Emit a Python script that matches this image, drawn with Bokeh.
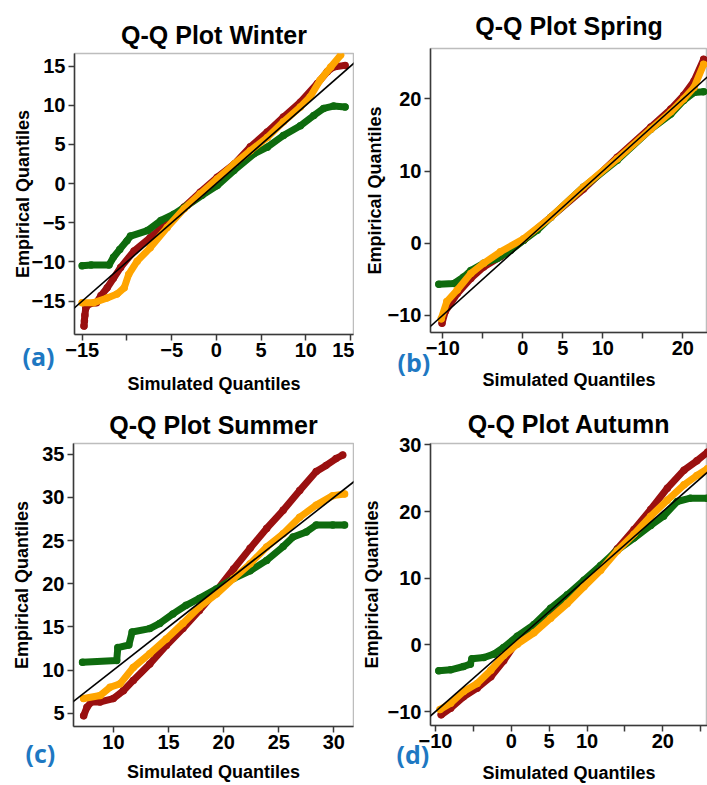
from bokeh.plotting import figure
from bokeh.models import Range1d, FixedTicker, Slope, Title
from bokeh.layouts import row, column
from bokeh.embed import file_html
from bokeh.resources import INLINE

# ---------------- data ----------------
# Winter
winter_red_x = [-14.8, -14.75, -14.7, -14.6, -14.3, -13.4, -12.9, -12.2, -11.5, -10.7, -9.2, -7.4, -5.5, -3.6, -1.8, 0.1, 2.0, 3.8, 5.7, 7.5, 9.4, 11.3, 12.4, 13.1, 14.4]
winter_red_y = [-18.2, -17.5, -16.8, -15.9, -15.4, -15.2, -14.3, -13.3, -12.1, -10.7, -8.6, -6.9, -5.0, -3.0, -1.1, 0.8, 2.5, 4.7, 6.6, 8.5, 10.4, 12.8, 14.3, 14.9, 15.1]
winter_orange_x = [-15.0, -13.7, -12.2, -11.1, -10.3, -9.8, -8.85, -7.4, -5.5, -3.6, -1.8, 0.1, 2.0, 3.8, 5.7, 7.5, 9.4, 10.5, 11.6, 12.8, 13.9]
winter_orange_y = [-15.2, -15.2, -14.6, -14.1, -13.3, -11.6, -9.9, -8.2, -5.6, -3.2, -1.3, 0.6, 2.5, 4.2, 5.9, 7.9, 9.8, 11.1, 13.2, 14.9, 16.4]
winter_green_x = [-15.0, -14.0, -12.0, -11.5, -10.8, -10.0, -9.6, -7.7, -6.2, -4.75, -3.26, -1.6, 0.1, 1.96, 4.2, 5.7, 7.5, 9.4, 10.9, 12.0, 13.1, 14.4]
winter_green_y = [-10.5, -10.4, -10.4, -9.4, -8.4, -7.3, -6.7, -6.0, -4.7, -3.9, -2.8, -1.5, -0.26, 1.67, 3.8, 4.66, 6.15, 7.4, 8.7, 9.6, 9.9, 9.8]

# Spring
spring_red_x = [-10.1, -9.7, -8.2, -6.5, -4.9, -2.8, 0.1, 3.5, 7.6, 11.8, 16.0, 18.5, 20.1, 21.4, 22.6]
spring_red_y = [-11.1, -9.5, -7.0, -4.9, -3.3, -1.9, 0.4, 3.6, 7.5, 11.9, 16.1, 18.6, 20.5, 22.5, 25.5]
spring_orange_x = [-10.2, -9.5, -8.2, -6.5, -4.9, -2.8, 0.1, 3.5, 7.6, 11.8, 16.0, 18.5, 20.1, 21.4, 22.6]
spring_orange_y = [-10.5, -8.1, -6.5, -4.2, -2.8, -1.2, 0.6, 3.6, 7.8, 11.7, 15.8, 18.2, 20.0, 21.6, 24.8]
spring_green_x = [-10.5, -8.6, -7.4, -6.5, -4.9, -3.2, -1.5, 0.1, 1.8, 3.5, 7.6, 11.8, 16.0, 18.5, 20.1, 21.4, 22.6]
spring_green_y = [-5.7, -5.6, -4.7, -3.8, -2.8, -2.15, -1.0, 0.4, 1.8, 3.6, 7.8, 11.5, 15.8, 17.9, 19.8, 20.9, 21.0]

# Summer
summer_red_x = [7.3, 7.6, 8.0, 8.8, 10.0, 10.9, 11.8, 13.3, 14.8, 16.3, 17.8, 19.35, 20.9, 22.4, 23.9, 25.4, 26.9, 28.4, 29.3, 30.2, 30.8]
summer_red_y = [4.7, 5.7, 6.3, 6.3, 6.7, 7.6, 8.8, 10.7, 12.85, 14.8, 16.9, 19.2, 21.7, 24.1, 26.4, 28.5, 30.8, 33.0, 33.7, 34.5, 34.9]
summer_orange_x = [7.3, 8.8, 9.7, 10.6, 11.8, 13.3, 14.8, 16.3, 17.8, 19.35, 20.9, 22.4, 23.9, 25.4, 26.9, 28.4, 29.9, 30.97]
summer_orange_y = [6.7, 7.05, 8.0, 8.4, 10.3, 11.9, 13.6, 15.4, 17.3, 18.8, 20.6, 22.3, 24.25, 25.8, 27.7, 29.1, 30.2, 30.4]
summer_green_x = [7.2, 10.3, 10.4, 11.4, 11.7, 13.3, 14.2, 15.4, 16.6, 17.8, 19.35, 20.9, 22.4, 23.9, 25.4, 26.3, 27.5, 28.4, 29.9, 30.97]
summer_green_y = [10.9, 11.1, 12.6, 12.9, 14.4, 14.8, 15.4, 16.5, 17.5, 18.3, 19.4, 20.6, 21.5, 22.7, 24.3, 25.4, 26.0, 26.8, 26.8, 26.8]

# Autumn
autumn_red_x = [-9.25, -8.0, -6.3, -4.5, -2.7, -1.0, 0.8, 3.0, 5.2, 7.4, 9.6, 11.8, 14.0, 16.2, 18.4, 20.6, 22.8, 24.5, 25.9]
autumn_red_y = [-10.5, -9.5, -7.8, -6.5, -4.8, -2.4, 0.6, 2.55, 5.0, 7.0, 9.2, 11.4, 14.4, 17.3, 20.3, 23.5, 26.2, 27.6, 28.9]
autumn_orange_x = [-9.4, -8.0, -6.3, -4.5, -2.7, -1.0, 0.8, 3.0, 5.2, 7.4, 9.6, 11.8, 14.0, 16.2, 18.4, 20.6, 22.8, 24.5, 25.9]
autumn_orange_y = [-9.7, -8.75, -7.0, -5.8, -3.8, -1.6, 0.1, 1.8, 4.0, 6.2, 8.7, 11.2, 14.1, 16.6, 19.3, 21.7, 24.0, 25.4, 26.4]
autumn_green_x = [-9.56, -8.0, -6.3, -5.4, -5.2, -3.6, -2.3, -1.0, 0.8, 3.0, 5.2, 7.4, 9.6, 11.8, 14.0, 16.2, 18.4, 20.1, 21.9, 23.65, 25.9]
autumn_green_y = [-3.9, -3.75, -3.25, -2.9, -2.1, -1.9, -1.4, -0.4, 1.3, 3.05, 5.5, 7.5, 9.7, 11.9, 14.2, 16.0, 17.9, 19.3, 21.5, 22.0, 22.0]

titles = ["Q-Q Plot Winter", "Q-Q Plot Spring", "Q-Q Plot Summer", "Q-Q Plot Autumn"]
tags = ["(a)", "(b)", "(c)", "(d)"]
x_label = "Simulated Quantiles"
y_label = "Empirical Quantiles"

winter_xticks = [-15, -10, -5, 0, 5, 10, 15]
winter_yticks = [-15, -10, -5, 0, 5, 10, 15]
spring_xticks = [-10, -5, 0, 5, 10, 15, 20]
spring_yticks = [-10, 0, 10, 20]
summer_xticks = [10, 15, 20, 25, 30]
summer_yticks = [5, 10, 15, 20, 25, 30, 35]
autumn_xticks = [-10, -5, 0, 5, 10, 15, 20, 25]
autumn_yticks = [-10, 0, 10, 20, 30]
# ticks whose labels R dropped
winter_blank = [-10]
spring_blank = [-5, 15]
summer_blank = []
autumn_blank = [-5, 15, 25]

RED = "#9A1010"
ORANGE = "#FFA500"
GREEN = "#0E6B0E"
TAG_BLUE = "#1E78C2"
FONT = "Liberation Sans"


def panel(title, tag, w, h, xr, yr, borders, xticks, yticks, blank, series,
          title_valign, title_standoff, title_offset, tag_offset, tag_standoff,
          ylab_standoff, xlab_standoff):
    p = figure(width=w, height=h, x_range=Range1d(*xr), y_range=Range1d(*yr),
               output_backend="svg", toolbar_location=None,
               min_border_left=borders[0], min_border_right=borders[1],
               min_border_top=borders[2], min_border_bottom=borders[3])
    if "frame_align" in p.properties():
        p.frame_align = False
    p.background_fill_color = "white"
    p.border_fill_color = "white"
    p.outline_line_color = "#BDBDBD"
    p.outline_line_width = 1.5
    p.grid.visible = False

    p.title.text = title
    p.title.align = "center"
    p.title.vertical_align = title_valign
    p.title.text_font = FONT
    p.title.text_font_size = "25px"
    p.title.text_font_style = "bold"
    p.title.text_color = "black"
    p.title.standoff = title_standoff
    p.title.offset = title_offset

    for ax in (p.xaxis[0], p.yaxis[0]):
        ax.axis_line_color = "#3A3A3A"
        ax.axis_line_width = 1.5
        ax.major_tick_line_color = "#3A3A3A"
        ax.major_tick_line_width = 1.5
        ax.major_tick_out = 6
        ax.major_tick_in = 0
        ax.minor_tick_line_color = None
        ax.major_label_text_font = FONT
        ax.major_label_text_font_size = "20px"
        ax.major_label_text_font_style = "bold"
        ax.major_label_text_color = "black"
        ax.axis_label_text_font = FONT
        ax.axis_label_text_font_size = "18px"
        ax.axis_label_text_font_style = "bold"
        ax.axis_label_text_color = "black"
    p.xaxis.ticker = FixedTicker(ticks=xticks)
    p.yaxis.ticker = FixedTicker(ticks=yticks)
    p.xaxis.major_label_overrides = {t: "" for t in blank}
    p.xaxis.major_label_standoff = 2
    p.yaxis.major_label_standoff = 3
    p.yaxis.major_label_orientation = "horizontal"
    p.xaxis.axis_label = x_label
    p.yaxis.axis_label = y_label
    p.xaxis.axis_label_standoff = xlab_standoff
    p.yaxis.axis_label_standoff = ylab_standoff

    for xs, ys, col in series:
        p.line(xs, ys, line_color=col, line_width=7, line_cap="round", line_join="round")
        p.scatter(xs, ys, marker="circle", size=6, fill_color="white", fill_alpha=0.0,
                  line_color=col, line_width=1.5)
    p.add_layout(Slope(gradient=1, y_intercept=0, line_color="black", line_width=1.6))

    # panel tag, stacked below the x axis and pulled up beside the tick labels
    tag_title = Title(text=tag, align="left", vertical_align="top",
                      offset=tag_offset, standoff=tag_standoff,
                      text_font="Open Sans", text_font_size="25px",
                      text_font_style="bold", text_color=TAG_BLUE)
    p.add_layout(tag_title, "below")
    return p


pa = panel(titles[0], tags[0], 354, 400, (-15.86, 15.34), (-19.27, 16.62), (74, 1, 53, 66),
           winter_xticks, winter_yticks, winter_blank,
           [(winter_red_x, winter_red_y, RED), (winter_green_x, winter_green_y, GREEN),
            (winter_orange_x, winter_orange_y, ORANGE)],
           "middle", 8, 0, -52, -115, -4, 14)
pb = panel(titles[1], tags[1], 353, 400, (-11.54, 23.08), (-12.4, 27.0), (76, 0, 48, 68),
           spring_xticks, spring_yticks, spring_blank,
           [(spring_red_x, spring_red_y, RED), (spring_green_x, spring_green_y, GREEN),
            (spring_orange_x, spring_orange_y, ORANGE)],
           "middle", 16, 4, -33, -95, 0, 12)
pc = panel(titles[2], tags[2], 354, 385, (6.38, 31.78), (3.46, 36.24), (73, 1, 43, 59),
           summer_xticks, summer_yticks, summer_blank,
           [(summer_red_x, summer_red_y, RED), (summer_green_x, summer_green_y, GREEN),
            (summer_orange_x, summer_orange_y, ORANGE)],
           "middle", 7, 0, -48, -97, 7, 10)
pd_ = panel(titles[3], tags[3], 353, 385, (-10.66, 25.9), (-12.1, 30.2), (76, 0, 43, 56),
            autumn_xticks, autumn_yticks, autumn_blank,
            [(autumn_red_x, autumn_red_y, RED), (autumn_green_x, autumn_green_y, GREEN),
             (autumn_orange_x, autumn_orange_y, ORANGE)],
            "middle", 10, 4, -34, -97, 3, 12)

layout = column(row(pa, pb), row(pc, pd_))
open("out.html", "w").write(file_html(layout, INLINE))
